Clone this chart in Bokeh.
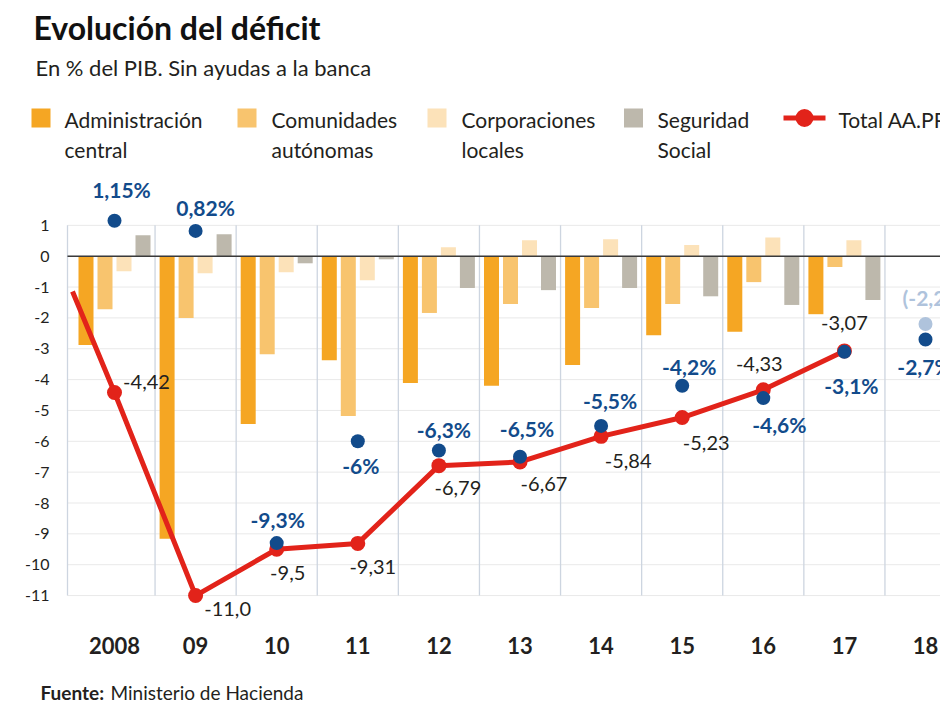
import numpy as np
from bokeh.plotting import figure
from bokeh.models import Range1d, FixedTicker, Label, LinearAxis
from bokeh.core.properties import value
from bokeh.embed import file_html
from bokeh.resources import INLINE

# ---------------- data ----------------
years = ["2008", "09", "10", "11", "12", "13", "14", "15", "16", "17", "18"]
adm_central = [-2.88, -9.16, -5.44, -3.37, -4.11, -4.20, -3.53, -2.56, -2.45, -1.88]
comunidades = [-1.72, -2.00, -3.18, -5.18, -1.84, -1.55, -1.68, -1.55, -0.84, -0.35]
corporaciones = [-0.49, -0.55, -0.52, -0.78, 0.29, 0.52, 0.55, 0.36, 0.61, 0.52]
seguridad_social = [0.68, 0.71, -0.23, -0.10, -1.03, -1.10, -1.03, -1.30, -1.58, -1.42]
total_2007 = 1.9
total = [-4.42, -11.0, -9.5, -9.31, -6.79, -6.67, -5.84, -5.23, -4.33, -3.07]
total_labels = ["-4,42", "-11,0", "-9,5", "-9,31", "-6,79", "-6,67", "-5,84", "-5,23", "-4,33", "-3,07"]
objetivo = [1.15, 0.82, -9.3, -6.0, -6.3, -6.5, -5.5, -4.2, -4.6, -3.1, -2.7]
objetivo_labels = ["1,15%", "0,82%", "-9,3%", "-6%", "-6,3%", "-6,5%", "-5,5%", "-4,2%", "-4,6%", "-3,1%", "-2,7%"]
objetivo_2018_previo = [-2.2]
objetivo_2018_previo_label = ["(-2,2%)"]
y_ticks = list(range(-11, 2))
legend_labels = ["Administración\ncentral", "Comunidades\nautónomas", "Corporaciones\nlocales",
                 "Seguridad\nSocial", "Total AA.PP."]

# ---------------- styles ----------------
FONT = "Lato"
C_AC = "#F5A623"
C_CA = "#F8C46E"
C_CL = "#FCE2B9"
C_SS = "#BDB8AC"
C_RED = "#E2231A"
C_BLUE = "#124B8B"
C_LBLUE = "#AFC3DC"
C_TXT = "#231F20"
C_GRID = "#E9E9E9"
C_SEP = "#CDD5E0"

W, H = 940, 705
PX_X = 81.1      # px per category
PX_Y = 30.85     # px per unit
X0_PX, Y0_PX = 114.0, 255.7   # pixel of first category / zero line


def px2x(px):
    return (px - X0_PX) / PX_X


def px2y(py):
    return (Y0_PX - py) / PX_Y


x_start, x_end = px2x(0), px2x(W)
y_start, y_end = px2y(H), px2y(0)
x_left = px2x(67)            # left edge of plotting area
y_axis_pos = px2y(605)       # where the category axis sits

idx = np.arange(len(years))
idx10 = idx[:len(total)]

p = figure(width=W, height=H, output_backend="svg", toolbar_location=None, title=None,
           x_range=Range1d(x_start, x_end), y_range=Range1d(y_start, y_end),
           x_axis_location=None, y_axis_location=None, min_border=0)
p.outline_line_color = None
p.background_fill_color = "white"
p.border_fill_color = "white"
for g in p.grid:
    g.visible = False

# axes at fixed locations
yax = LinearAxis(fixed_location=x_left, ticker=FixedTicker(ticks=y_ticks),
                 major_label_overrides={t: str(t) for t in y_ticks})
yax.axis_line_color = None
yax.major_tick_line_color = None
yax.minor_tick_line_color = None
yax.major_tick_out = 0
yax.major_tick_in = 0
yax.major_label_standoff = 18
yax.major_label_text_font = FONT
yax.major_label_text_font_size = "16px"
yax.major_label_text_color = C_TXT
p.add_layout(yax, "left")

xax = LinearAxis(fixed_location=y_axis_pos, ticker=FixedTicker(ticks=list(idx)),
                 major_label_overrides={int(i): years[i] for i in idx})
xax.axis_line_color = None
xax.major_tick_line_color = None
xax.minor_tick_line_color = None
xax.major_tick_out = 0
xax.major_tick_in = 0
xax.major_label_standoff = 31
xax.major_label_text_font = FONT
xax.major_label_text_font_style = "bold"
xax.major_label_text_font_size = "22px"
xax.major_label_text_color = C_TXT
p.add_layout(xax, "below")

# horizontal grid lines and column separators
p.segment(x0=[x_left] * len(y_ticks), x1=[x_end] * len(y_ticks), y0=y_ticks, y1=y_ticks,
          line_color=C_GRID, line_width=1)
sep_x = [x_left] + [i + 0.5 for i in range(len(years) - 1)]
p.segment(x0=sep_x, y0=[y_ticks[0]] * len(sep_x), x1=sep_x, y1=[y_ticks[-1]] * len(sep_x),
          line_color=C_SEP, line_width=1.3)

# bars
bw = 15 / PX_X
offs = [-28.5 / PX_X, -9.5 / PX_X, 9.5 / PX_X, 28.5 / PX_X]
series = [adm_central, comunidades, corporaciones, seguridad_social]
colors = [C_AC, C_CA, C_CL, C_SS]
for s, o, c in zip(series, offs, colors):
    p.vbar(x=idx10 + o, top=s, bottom=0, width=bw, fill_color=c, line_color=None)

# zero line
p.segment(x0=[x_left], x1=[x_end], y0=[0], y1=[0], line_color="#3A3A3A", line_width=1.5)

# total line: enters the panel from the 2007 value, cut at the panel edge
x_cut = px2x(72)
y_cut = total[0] + (total[0] - total_2007) * x_cut
p.line(x=[x_cut] + list(idx10), y=[y_cut] + total, line_color=C_RED, line_width=5, line_join="round")
p.scatter(x=idx10, y=total, size=15, fill_color=C_RED, line_color=None)

# objetivos
p.scatter(x=[idx[-1]], y=objetivo_2018_previo, size=14, fill_color=C_LBLUE, line_color=None)
p.scatter(x=idx, y=objetivo, size=14, fill_color=C_BLUE, line_color=None)

# value labels
tot_dx = [32, 32, 11, 15, 19, 24, 27, 24, -4, 0]
tot_dy = [-11, 13, 24, 24, 22, 22, 25, 25, -26, -28]
p.text(x=idx10, y=total, text=total_labels, x_offset=tot_dx, y_offset=tot_dy,
       text_align="center", text_baseline="middle", text_font=value(FONT),
       text_font_size="20px", text_color=C_TXT)

obj_dx = [7, 10, 1, 3, 5, 7, 9, 7, 16, 7, -1]
obj_dy = [-31, -23, -24, 24, -21, -28, -25, -19, 26, 34, 27]
p.text(x=idx, y=objetivo, text=objetivo_labels, x_offset=obj_dx, y_offset=obj_dy,
       text_align="center", text_baseline="middle", text_font=value(FONT),
       text_font_style="bold", text_font_size="21px", text_color=C_BLUE)
p.text(x=[idx[-1]], y=objetivo_2018_previo, text=objetivo_2018_previo_label, x_offset=[10], y_offset=[-27],
       text_align="center", text_baseline="middle", text_font=value(FONT),
       text_font_style="bold", text_font_size="21px", text_color=C_LBLUE)

# legend (drawn by hand: swatch aligned with the first text line)
sw_px = [40.5, 246.5, 436.5, 633.0]
txt_px = [64, 271, 461, 657, 838]
row1_py, row2_py = 118.5, 148.5
p.scatter(x=[px2x(v) for v in sw_px], y=[px2y(117.5)] * 4, marker="square", size=19,
          fill_color=colors, line_color=None)
p.segment(x0=[px2x(783)], x1=[px2x(825)], y0=[px2y(117.5)], y1=[px2y(117.5)],
          line_color=C_RED, line_width=5)
p.scatter(x=[px2x(804)], y=[px2y(117.5)], size=18, fill_color=C_RED, line_color=None)
first_lines = [t.split("\n")[0] for t in legend_labels]
second_lines = [t.split("\n")[1] if "\n" in t else "" for t in legend_labels]
p.text(x=[px2x(v) for v in txt_px], y=[px2y(row1_py)] * 5, text=first_lines,
       text_align="left", text_baseline="middle", text_font=value(FONT),
       text_font_size="21px", text_color=C_TXT)
p.text(x=[px2x(v) for v in txt_px], y=[px2y(row2_py)] * 5, text=second_lines,
       text_align="left", text_baseline="middle", text_font=value(FONT),
       text_font_size="21px", text_color=C_TXT)

# titles / source
p.add_layout(Label(x=33, y=H - 27, x_units="screen", y_units="screen", text="Evolución del déficit",
                   text_font=FONT, text_font_style="bold", text_font_size="32px", text_color="#111111",
                   text_baseline="middle"))
p.add_layout(Label(x=35, y=H - 67, x_units="screen", y_units="screen",
                   text="En % del PIB. Sin ayudas a la banca",
                   text_font=FONT, text_font_size="22px", text_color=C_TXT, text_baseline="middle"))
p.add_layout(Label(x=40, y=H - 692, x_units="screen", y_units="screen", text="Fuente:",
                   text_font=FONT, text_font_style="bold", text_font_size="19px", text_color=C_TXT,
                   text_baseline="middle"))
p.add_layout(Label(x=110, y=H - 692, x_units="screen", y_units="screen", text="Ministerio de Hacienda",
                   text_font=FONT, text_font_size="19px", text_color=C_TXT, text_baseline="middle"))

open("out.html", "w").write(file_html(p, INLINE))
